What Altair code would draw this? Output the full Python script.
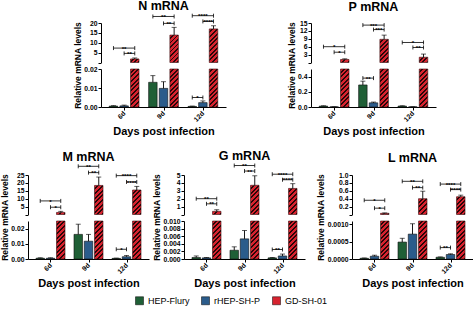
import altair as alt
import pandas as pd

FONT = "Liberation Sans"
days = ["6d", "9d", "12d"]
strains = ["HEP-Flury", "rHEP-SH-P", "GD-SH-01"]
strain_colors = ["#1f5f36", "#2b5c8b", "#d7232f"]
RED = "#d7232f"
DARK = "#2a0608"

# ---------------- N mRNA
n_mean_hep = [0.0005, 0.0130, 0.0003]
n_sd_hep = [0.0002, 0.0035, 0.0002]
n_mean_rhep = [0.0006, 0.0098, 0.0023]
n_sd_rhep = [0.0004, 0.0035, 0.0009]
n_mean_gd = [1.8, 13.9, 17.0]
n_sd_gd = [0.5, 3.9, 1.6]
n_sig_day = [0, 0, 1, 1, 2, 2, 2]
n_sig_from = [0, 1, 0, 1, 0, 1, 0]
n_sig_to = [2, 2, 2, 2, 2, 2, 1]
n_sig_upper = [1, 1, 1, 1, 1, 1, 0]
n_sig_y = [7.3, 4.6, 23.3, 19.8, 23.7, 20.8, 0.005]
n_sig_label = ["**", "**", "**", "**", "****", "****", "*"]

# ---------------- P mRNA
p_mean_hep = [0.012, 0.29, 0.012]
p_sd_hep = [0.004, 0.05, 0.004]
p_mean_rhep = [0.002, 0.055, 0.002]
p_sd_rhep = [0.001, 0.010, 0.001]
p_mean_gd = [1.15, 8.8, 2.0]
p_sd_gd = [0.25, 1.6, 1.2]
p_sig_day = [0, 0, 1, 1, 1, 2, 2]
p_sig_from = [0, 1, 0, 1, 0, 0, 1]
p_sig_to = [2, 2, 2, 2, 1, 2, 2]
p_sig_upper = [1, 1, 1, 1, 0, 1, 1]
p_sig_y = [6.0, 3.9, 14.2, 12.5, 0.38, 7.6, 5.7]
p_sig_label = ["*", "*", "***", "***", "**", "*", "**"]

# ---------------- M mRNA
m_mean_hep = [0.0005, 0.0162, 0.0004]
m_sd_hep = [0.0003, 0.0067, 0.0002]
m_mean_rhep = [0.0005, 0.0117, 0.0015]
m_sd_rhep = [0.0003, 0.0045, 0.0008]
m_mean_gd = [1.3, 18.4, 15.5]
m_sd_gd = [0.7, 5.3, 2.3]
m_sig_day = [0, 0, 1, 1, 2, 2, 2]
m_sig_from = [0, 1, 0, 1, 0, 1, 0]
m_sig_to = [2, 2, 2, 2, 2, 2, 1]
m_sig_upper = [1, 1, 1, 1, 1, 1, 0]
m_sig_y = [8.6, 4.6, 30.5, 26.5, 24.6, 20.6, 0.0064]
m_sig_label = ["*", "*", "**", "**", "****", "****", "*"]

# ---------------- G mRNA
g_mean_hep = [0.0004, 0.0023, 0.0003]
g_sd_hep = [0.0004, 0.0009, 0.0001]
g_mean_rhep = [0.0003, 0.0053, 0.0008]
g_sd_rhep = [0.0001, 0.0022, 0.0005]
g_mean_gd = [0.4, 3.7, 3.3]
g_sd_gd = [0.2, 1.2, 0.6]
g_sig_day = [0, 0, 1, 1, 2, 2, 2]
g_sig_from = [0, 1, 0, 1, 0, 1, 0]
g_sig_to = [2, 2, 2, 2, 2, 2, 1]
g_sig_upper = [1, 1, 1, 1, 1, 1, 0]
g_sig_y = [2.0, 1.35, 6.2, 5.5, 5.1, 4.4, 0.0025]
g_sig_label = ["**", "**", "**", "**", "****", "****", "**"]

# ---------------- L mRNA
l_mean_hep = [0.00002, 0.00049, 0.00005]
l_sd_hep = [0.00001, 0.00011, 0.00001]
l_mean_rhep = [0.00008, 0.00072, 0.00013]
l_sd_rhep = [0.00003, 0.00030, 0.00002]
l_mean_gd = [0.03, 0.40, 0.45]
l_sd_gd = [0.01, 0.19, 0.04]
l_sig_day = [0, 0, 1, 1, 2, 2, 2]
l_sig_from = [0, 1, 0, 1, 0, 1, 0]
l_sig_to = [2, 2, 2, 2, 2, 2, 1]
l_sig_upper = [1, 1, 1, 1, 1, 1, 0]
l_sig_y = [0.36, 0.16, 0.84, 0.68, 0.77, 0.63, 0.00033]
l_sig_label = ["*", "*", "**", "**", "****", "****", "**"]

OFF = [-0.27, 0.0, 0.27]
BARW = 8.5
HUP = 39.5
HLOW = 38
XDOM = [-0.46, 2.46]
LEG = alt.Legend(orient="none", legendX=107, legendY=273, direction="horizontal", title=None,
                 symbolType="square", symbolSize=64, labelFontSize=9, labelFont=FONT,
                 labelFontWeight="normal", columnPadding=10, symbolStrokeColor="black",
                 symbolStrokeWidth=0.5, labelColor="black")


def make_hatch(w, h):
    h = max(h, 0.6)
    s = (w + h) / (w * w + h * h)
    span = (w + h) / (2 ** 0.5)
    n = max(1, int(round(span / 3.3)))
    stops = []
    for i in range(n):
        a = i / n
        b = (i + 0.58) / n
        c = (i + 1) / n
        stops += [{"offset": a, "color": RED}, {"offset": b, "color": RED},
                  {"offset": b, "color": DARK}, {"offset": c, "color": DARK}]
    return {"gradient": "linear", "x1": 0, "y1": 0, "x2": s * w, "y2": s * h, "stops": stops}


def panel(title, means, sds, sig, up_dom, up_ticks, up_fmt, low_dom, low_ticks, low_fmt, width, toff):
    rows = []
    for s in range(3):
        for d in range(3):
            rows.append({"day": d, "si": s, "strain": strains[s], "x": d + OFF[s], "zero": 0.0,
                         "mean": means[s][d], "top": means[s][d] + sds[s][d],
                         "lowv": min(means[s][d], low_dom[1])})
    bars = pd.DataFrame(rows)
    sday, sfrom, sto, sup, sy, slab = sig
    srows, erows = [], []
    for i in range(len(sday)):
        x1 = sday[i] + OFF[sfrom[i]]
        x2 = sday[i] + OFF[sto[i]]
        srows.append({"x1": x1, "x2": x2, "xm": (x1 + x2) / 2, "y": sy[i], "label": slab[i], "upper": sup[i]})
        erows.append({"x": x1, "y": sy[i], "upper": sup[i]})
        erows.append({"x": x2, "y": sy[i], "upper": sup[i]})
    sigs = pd.DataFrame(srows)
    ends = pd.DataFrame(erows)

    xs = alt.Scale(domain=XDOM, nice=False, zero=False)

    def sig_layers(sg, en, yscale, xax, yax):
        return [
            alt.Chart(sg).mark_rule(color="black", strokeWidth=0.8).encode(
                x=alt.X("x1:Q", scale=xs, axis=xax), x2="x2:Q", y=alt.Y("y:Q", scale=yscale, axis=yax)),
            alt.Chart(en).mark_point(shape="M0,-1L0,1", size=16, filled=False, color="black",
                                     strokeWidth=0.8, opacity=1).encode(
                x=alt.X("x:Q", scale=xs, axis=xax), y=alt.Y("y:Q", scale=yscale, axis=yax)),
            alt.Chart(sg).mark_text(fontSize=6.2, fontWeight="bold", font=FONT, baseline="alphabetic",
                                    dy=2.6, color="black").encode(
                x=alt.X("xm:Q", scale=xs, axis=xax), y=alt.Y("y:Q", scale=yscale, axis=yax), text="label:N"),
        ]

    # ---- upper segment
    up_max = up_dom[1]
    yup = alt.Scale(domain=up_dom, nice=False, zero=False)
    up_axis = alt.Axis(values=[0] + up_ticks, labelExpr="datum.value == 0 ? '' : datum.label",
                       format=up_fmt, title=None, grid=False, labelOverlap=False)
    red = bars[bars.si == 2]
    up_layers = []
    for d in range(3):
        r = red[red.day == d]
        hpx = min(float(r["mean"].iloc[0]), up_max) / up_max * HUP
        up_layers.append(alt.Chart(r).mark_bar(width=BARW, orient="vertical", fill=make_hatch(BARW, hpx),
                                               stroke="#3a0a0c", strokeWidth=0.6).encode(
            x=alt.X("x:Q", scale=xs, axis=None),
            y=alt.Y("mean:Q", scale=yup, axis=up_axis),
            y2="zero:Q"))
    up_layers.append(alt.Chart(red).mark_rule(color="black", strokeWidth=0.9).encode(
        x=alt.X("x:Q", scale=xs, axis=None), y=alt.Y("mean:Q", scale=yup, axis=up_axis), y2="top:Q"))
    up_layers.append(alt.Chart(red).mark_tick(orient="horizontal", size=5, thickness=0.9, color="black").encode(
        x=alt.X("x:Q", scale=xs, axis=None), y=alt.Y("top:Q", scale=yup, axis=up_axis)))
    up_layers += sig_layers(sigs[sigs.upper == 1], ends[ends.upper == 1], yup, None, up_axis)
    upper = alt.layer(*up_layers).properties(
        width=width, height=HUP,
        title=alt.Title(title, anchor="middle", frame="group", offset=toff))

    # ---- lower segment
    ylow = alt.Scale(domain=low_dom, nice=False, zero=False)
    lab_expr = "[" + ",".join("'%s'" % t for t in days) + "][datum.value]"
    x_axis = alt.Axis(values=[0, 1, 2], labelExpr=lab_expr, labelAngle=315, labelAlign="right",
                      labelBaseline="middle", labelPadding=2, title="Days post infection",
                      titleFontSize=11, titlePadding=3, grid=False)
    low_axis = alt.Axis(values=low_ticks, format=low_fmt, title="Relative mRNA levels",
                        titleFontSize=8.5, titleY=-4, titlePadding=1.5, grid=False, labelOverlap=False)
    small = bars[bars.si < 2]
    low_layers = [
        alt.Chart(small).mark_bar(width=BARW, orient="vertical", stroke="#111111", strokeWidth=0.6).encode(
            x=alt.X("x:Q", scale=xs, axis=x_axis),
            y=alt.Y("lowv:Q", scale=ylow, axis=low_axis),
            y2="zero:Q",
            color=alt.Color("strain:N", scale=alt.Scale(domain=strains, range=strain_colors), legend=LEG)),
        alt.Chart(red).mark_bar(width=BARW, orient="vertical", fill=make_hatch(BARW, HLOW),
                                stroke="#3a0a0c", strokeWidth=0.6).encode(
            x=alt.X("x:Q", scale=xs, axis=x_axis),
            y=alt.Y("lowv:Q", scale=ylow, axis=low_axis),
            y2="zero:Q"),
        alt.Chart(small).mark_rule(color="black", strokeWidth=0.9).encode(
            x=alt.X("x:Q", scale=xs, axis=x_axis), y=alt.Y("mean:Q", scale=ylow, axis=low_axis), y2="top:Q"),
        alt.Chart(small).mark_tick(orient="horizontal", size=5, thickness=0.9, color="black").encode(
            x=alt.X("x:Q", scale=xs, axis=x_axis), y=alt.Y("top:Q", scale=ylow, axis=low_axis)),
    ]
    low_layers += sig_layers(sigs[sigs.upper == 0], ends[ends.upper == 0], ylow, x_axis, low_axis)
    lower = alt.layer(*low_layers).properties(width=width, height=HLOW)
    return alt.vconcat(upper, lower, spacing=6, bounds="flush")


N = panel("N mRNA", [n_mean_hep, n_mean_rhep, n_mean_gd], [n_sd_hep, n_sd_rhep, n_sd_gd],
          (n_sig_day, n_sig_from, n_sig_to, n_sig_upper, n_sig_y, n_sig_label),
          [0, 20], [5, 10, 15, 20], "d", [0, 0.02], [0, 0.01, 0.02], ".2f", 125, -0.5)
P = panel("P mRNA", [p_mean_hep, p_mean_rhep, p_mean_gd], [p_sd_hep, p_sd_rhep, p_sd_gd],
          (p_sig_day, p_sig_from, p_sig_to, p_sig_upper, p_sig_y, p_sig_label),
          [0, 15], [3, 6, 9, 12, 15], "d", [0, 0.5], [0, 0.2, 0.4], ".1f", 125, 6.5)
M = panel("M mRNA", [m_mean_hep, m_mean_rhep, m_mean_gd], [m_sd_hep, m_sd_rhep, m_sd_gd],
          (m_sig_day, m_sig_from, m_sig_to, m_sig_upper, m_sig_y, m_sig_label),
          [0, 25], [5, 10, 15, 20, 25], "d", [0, 0.025], [0, 0.01, 0.02], ".2f", 121, -0.5)
G = panel("G mRNA", [g_mean_hep, g_mean_rhep, g_mean_gd], [g_sd_hep, g_sd_rhep, g_sd_gd],
          (g_sig_day, g_sig_from, g_sig_to, g_sig_upper, g_sig_y, g_sig_label),
          [0, 5], [1, 2, 3, 4, 5], "d", [0, 0.010], [0, 0.002, 0.004, 0.006, 0.008, 0.010], ".3f", 121, -1)
L = panel("L mRNA", [l_mean_hep, l_mean_rhep, l_mean_gd], [l_sd_hep, l_sd_rhep, l_sd_gd],
          (l_sig_day, l_sig_from, l_sig_to, l_sig_upper, l_sig_y, l_sig_label),
          [0, 1.0], [0.2, 0.4, 0.6, 0.8, 1.0], ".1f", [0, 0.0011], [0, 0.0005, 0.0010], ".4f", 121, 7.5)

spacer = alt.Chart(pd.DataFrame({"a": [0]})).mark_point(opacity=0).encode(
    x=alt.value(0), y=alt.value(0)).properties(width=45, height=10)

top_row = alt.hconcat(spacer, alt.hconcat(N, P, spacing=61), spacing=0)
bottom_row = alt.hconcat(M, alt.hconcat(G, L, spacing=11), spacing=3)

chart = alt.vconcat(top_row, bottom_row, spacing=13).configure_view(stroke=None).configure_axis(
    labelFont=FONT, titleFont=FONT, labelFontWeight="bold", titleFontWeight="bold",
    labelFontSize=6.8, labelColor="black", titleColor="black", domainColor="black",
    tickColor="black", tickSize=3, domainWidth=1, tickWidth=1, labelPadding=1, titlePadding=2
).configure_title(font=FONT, fontWeight="bold", fontSize=12.5, color="black").properties(
    padding={"left": 0, "top": 0, "right": 0, "bottom": 0}, background="white")

chart.save("out.html", embed_options={"renderer": "svg", "actions": False})
